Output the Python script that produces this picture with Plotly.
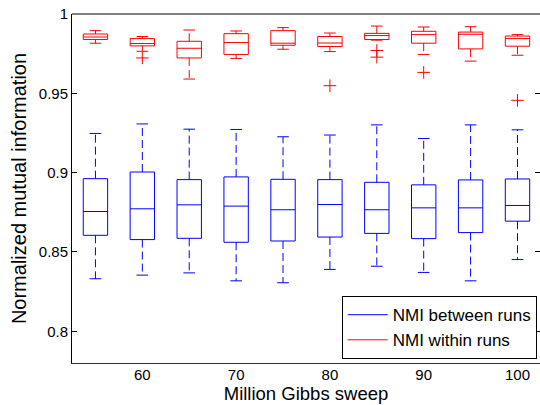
import plotly.graph_objects as go

positions = [55, 60, 65, 70, 75, 80, 85, 90, 95, 100]

# NMI between runs (blue)
b_hi  = [0.9247, 0.9307, 0.9274, 0.9272, 0.9226, 0.9237, 0.9301, 0.9215, 0.9301, 0.9270]
b_q3  = [0.8962, 0.9004, 0.8956, 0.8973, 0.8958, 0.8956, 0.8939, 0.8923, 0.8954, 0.8960]
b_med = [0.8755, 0.8772, 0.8797, 0.8789, 0.8766, 0.8799, 0.8766, 0.8778, 0.8778, 0.8793]
b_q1  = [0.8605, 0.8578, 0.8586, 0.8561, 0.8569, 0.8594, 0.8617, 0.8584, 0.8622, 0.8694]
b_lo  = [0.8331, 0.8354, 0.8368, 0.8318, 0.8306, 0.8390, 0.8410, 0.8371, 0.8318, 0.8452]

# NMI within runs (red)
r_hi  = [0.9895, 0.9858, 0.9899, 0.9893, 0.9914, 0.9880, 0.9924, 0.9918, 0.9920, 0.9870]
r_q3  = [0.9874, 0.9845, 0.9828, 0.9876, 0.9895, 0.9858, 0.9878, 0.9891, 0.9886, 0.9861]
r_med = [0.9855, 0.9814, 0.9784, 0.9820, 0.9816, 0.9817, 0.9864, 0.9870, 0.9872, 0.9845]
r_q1  = [0.9839, 0.9799, 0.9723, 0.9745, 0.9803, 0.9795, 0.9839, 0.9816, 0.9780, 0.9797]
r_lo  = [0.9816, 0.9765, 0.9590, 0.9720, 0.9778, 0.9763, 0.9835, 0.9745, 0.9703, 0.9740]
r_out_x = [60, 80, 85, 85, 90, 100]
r_out_y = [0.9723, 0.9548, 0.9770, 0.9728, 0.9632, 0.9456]

BOX_HALF = 1.3
CAP_HALF = 0.62


def box_traces(name, color, hi, q3, med, q1, lo, out_x=None, out_y=None):
    bx, by, mx, my, wx, wy, cx, cy = [], [], [], [], [], [], [], []
    for p, h, a, m, b, l in zip(positions, hi, q3, med, q1, lo):
        bx += [p - BOX_HALF, p + BOX_HALF, p + BOX_HALF, p - BOX_HALF, p - BOX_HALF, None]
        by += [b, b, a, a, b, None]
        mx += [p - BOX_HALF, p + BOX_HALF, None]
        my += [m, m, None]
        wx += [p, p, None, p, p, None]
        wy += [a, h, None, b, l, None]
        cx += [p - CAP_HALF, p + CAP_HALF, None, p - CAP_HALF, p + CAP_HALF, None]
        cy += [h, h, None, l, l, None]
    tr = [
        go.Scatter(x=wx, y=wy, mode="lines", line=dict(color=color, width=1, dash="8px,4px"),
                   showlegend=False, hoverinfo="skip"),
        go.Scatter(x=bx, y=by, mode="lines", line=dict(color=color, width=1),
                   name=name, legendgroup=name, showlegend=True),
        go.Scatter(x=mx, y=my, mode="lines", line=dict(color=color, width=1),
                   legendgroup=name, showlegend=False),
        go.Scatter(x=cx, y=cy, mode="lines", line=dict(color=color, width=1),
                   legendgroup=name, showlegend=False),
    ]
    if out_x:
        tr.append(go.Scatter(x=out_x, y=out_y, mode="markers",
                             marker=dict(symbol="cross-thin-open", size=9, color=color,
                                         line=dict(color=color, width=1)),
                             legendgroup=name, showlegend=False))
    return tr


fig = go.Figure()
for t in box_traces("NMI between runs", "#0000FF", b_hi, b_q3, b_med, b_q1, b_lo):
    fig.add_trace(t)
for t in box_traces("NMI within runs", "#FF0000", r_hi, r_q3, r_med, r_q1, r_lo, r_out_x, r_out_y):
    fig.add_trace(t)

font_family = "Liberation Sans, Arial, Helvetica, sans-serif"

fig.update_layout(
    width=540, height=405,
    margin=dict(l=72, r=0, t=14, b=42),
    paper_bgcolor="white", plot_bgcolor="white",
    font=dict(family=font_family, size=15, color="black"),
    showlegend=True,
    legend=dict(x=0.993, y=0.011, xanchor="right", yanchor="bottom",
                bgcolor="white", bordercolor="black", borderwidth=1,
                font=dict(size=17), tracegroupgap=0, itemwidth=40),
    xaxis=dict(range=[52.5, 102.4], tickvals=[60, 70, 80, 90, 100],
               ticks="", showgrid=False, zeroline=False, ticklabelstandoff=-2,
               showline=True, linecolor="#333333", linewidth=1,
               title=dict(text="Million Gibbs sweep", font=dict(size=18.5), standoff=2)),
    yaxis=dict(range=[0.78, 1.0], tickvals=[0.8, 0.85, 0.9, 0.95, 1.0],
               ticktext=["0.8", "0.85", "0.9", "0.95", "1"],
               ticks="inside", ticklen=5, tickcolor="black",
               showgrid=False, zeroline=False, mirror="ticks",
               showline=True, linecolor="black", linewidth=1,
               title=dict(text="Normalized mutual information", font=dict(size=20), standoff=6)),
    shapes=[dict(type="line", xref="paper", yref="paper", x0=0, x1=1, y0=1, y1=1,
                 line=dict(color="#808080", width=2))],
)

fig.write_html("out.html")
